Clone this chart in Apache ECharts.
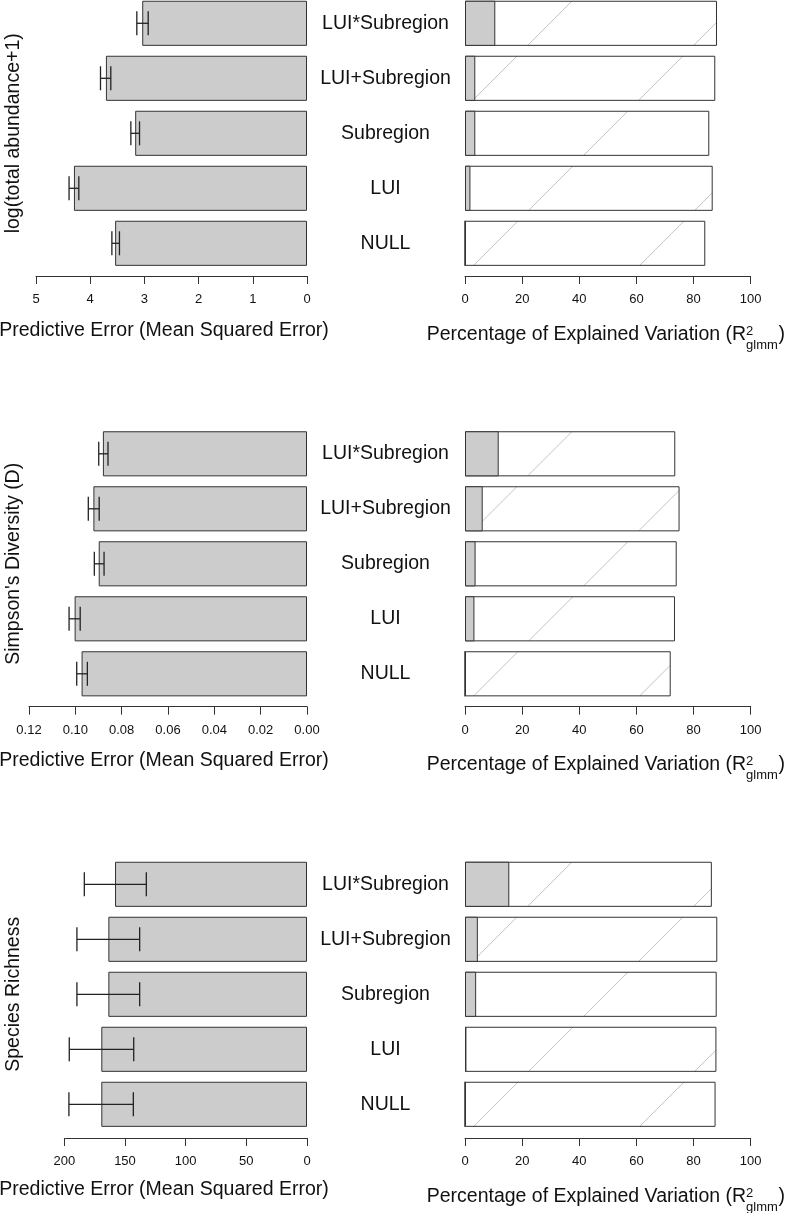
<!DOCTYPE html>
<html>
<head>
<meta charset="utf-8">
<script src="https://cdn.jsdelivr.net/npm/echarts@6/dist/echarts.min.js"></script>
<style>
html,body{margin:0;padding:0;background:#fff;}
#chart{width:787px;height:1213px;}
</style>
</head>
<body>
<div id="chart"></div>
<script>
// ---------------- data (top to bottom order) ----------------
const categories = ['LUI*Subregion', 'LUI+Subregion', 'Subregion', 'LUI', 'NULL'];

// log(total abundance+1)
const abundanceMSE      = [3.04, 3.71, 3.17, 4.30, 3.54];
const abundanceLow      = [2.93, 3.62, 3.09, 4.21, 3.46];
const abundanceHigh     = [3.14, 3.81, 3.25, 4.39, 3.60];
const abundanceR2Total  = [88.2, 87.6, 85.5, 86.7, 84.1];
const abundanceR2Fixed  = [10.6, 3.6, 3.6, 1.9, 0];

// Simpson's Diversity (D)
const simpsonMSE        = [0.0881, 0.0922, 0.0899, 0.1003, 0.0973];
const simpsonLow        = [0.0859, 0.0897, 0.0876, 0.0979, 0.0948];
const simpsonHigh       = [0.0899, 0.0944, 0.0918, 0.1027, 0.0994];
const simpsonR2Total    = [73.6, 75.1, 74.1, 73.5, 72.0];
const simpsonR2Fixed    = [11.8, 6.2, 3.7, 3.3, 0];

// Species Richness
const richnessMSE       = [158.2, 163.7, 163.7, 169.5, 169.5];
const richnessLow       = [132.4, 137.9, 137.9, 142.8, 143.1];
const richnessHigh      = [183.5, 189.6, 189.6, 195.9, 196.2];
const richnessR2Total   = [86.4, 88.3, 88.1, 88.0, 87.7];
const richnessR2Fixed   = [15.5, 4.5, 3.9, 0.5, 0];

// tick labels
const abundanceTicks = [0, 1, 2, 3, 4, 5];
const simpsonTicks   = [0, 0.02, 0.04, 0.06, 0.08, 0.10, 0.12];
const richnessTicks  = [0, 50, 100, 150, 200];
const r2Ticks        = [0, 20, 40, 60, 80, 100];

// texts
const yTitles = ['log(total abundance+1)', "Simpson's Diversity (D)", 'Species Richness'];
const leftXTitle = 'Predictive Error (Mean Squared Error)';
const rightXTitleMain = 'Percentage of Explained Variation (R';
const rightXTitleSup = '2';
const rightXTitleSub = 'glmm';
const rightXTitleEnd = ')';

// ---------------- layout / style ----------------
const FONT = '"Liberation Sans", Arial, Helvetica, sans-serif';
const TXT = '#111';
const LINE = '#333';
const GRAY = '#cccccc';

const panels = [
  {mse: abundanceMSE, lo: abundanceLow, hi: abundanceHigh, tot: abundanceR2Total, fix: abundanceR2Fixed, ticks: abundanceTicks, dec: 0, yTitle: yTitles[0],
   top: -4.2, leftX: 36, off: 5.2, lMid: 330.3, rMid: 334.5},
  {mse: simpsonMSE, lo: simpsonLow, hi: simpsonHigh, tot: simpsonR2Total, fix: simpsonR2Fixed, ticks: simpsonTicks, dec: 2, yTitle: yTitles[1],
   top: 426.3, leftX: 29, off: 5.4, lMid: 760.3, rMid: 765},
  {mse: richnessMSE, lo: richnessLow, hi: richnessHigh, tot: richnessR2Total, fix: richnessR2Fixed, ticks: richnessTicks, dec: 0, yTitle: yTitles[2],
   top: 856.8, leftX: 64.3, off: 6.2, lMid: 1189.7, rMid: 1196.5}
];
const GRID_H = 275;
const LEFT_RIGHT_EDGE = 307;
const RIGHT_LEFT = 465, RIGHT_W = 285.7;
const S = 166;

function hatch(c) {
  const cv = document.createElement('canvas');
  cv.width = S; cv.height = S;
  const g = cv.getContext('2d');
  g.fillStyle = '#ffffff';
  g.fillRect(0, 0, S, S);
  g.strokeStyle = '#c4c4c4';
  g.lineWidth = 1;
  for (const k of [c - S, c, c + S, c + 2 * S]) {
    g.beginPath();
    g.moveTo(k + 5, -5);
    g.lineTo(-5, k + 5);
    g.stroke();
  }
  return cv;
}

function measure(text, size) {
  const g = document.createElement('canvas').getContext('2d');
  g.font = size + 'px ' + FONT;
  return g.measureText(text).width;
}

function errRender(params, api) {
  const y = api.value(0);
  const p1 = api.coord([api.value(1), y]);
  const p2 = api.coord([api.value(2), y]);
  const h = 12;
  const st = {stroke: '#222', lineWidth: 1.3};
  return {
    type: 'group',
    children: [
      {type: 'line', shape: {x1: p1[0], y1: p1[1], x2: p2[0], y2: p2[1]}, style: st},
      {type: 'line', shape: {x1: p1[0], y1: p1[1] - h, x2: p1[0], y2: p1[1] + h}, style: st},
      {type: 'line', shape: {x1: p2[0], y1: p2[1] - h, x2: p2[0], y2: p2[1] + h}, style: st}
    ]
  };
}

const grid = [], xAxis = [], yAxis = [], series = [], graphic = [];

panels.forEach((p, i) => {
  const gl = i * 2, gr = i * 2 + 1;
  grid.push({left: p.leftX, width: LEFT_RIGHT_EDGE - p.leftX, top: p.top, height: GRID_H, outerBoundsMode: 'none'});
  grid.push({left: RIGHT_LEFT, width: RIGHT_W, top: p.top, height: GRID_H, outerBoundsMode: 'none'});

  const axisCommon = {
    type: 'value',
    axisLine: {show: true, lineStyle: {color: LINE, width: 1}},
    axisTick: {show: true, length: 8, lineStyle: {color: LINE, width: 1}},
    splitLine: {show: false},
    offset: p.off
  };
  xAxis.push(Object.assign({}, axisCommon, {
    gridIndex: gl, inverse: true,
    min: p.ticks[0], max: p.ticks[p.ticks.length - 1], interval: p.ticks[1] - p.ticks[0],
    axisLabel: {margin: 17, fontSize: 13, color: TXT, fontFamily: FONT,
      formatter: v => Number(v).toFixed(p.dec)}
  }));
  xAxis.push(Object.assign({}, axisCommon, {
    gridIndex: gr,
    min: r2Ticks[0], max: r2Ticks[r2Ticks.length - 1], interval: r2Ticks[1] - r2Ticks[0],
    axisLabel: {margin: 17, fontSize: 13, color: TXT, fontFamily: FONT}
  }));

  yAxis.push({
    gridIndex: gl, type: 'category', data: categories, inverse: true, position: 'right',
    axisLine: {show: false}, axisTick: {show: false}, splitLine: {show: false},
    axisLabel: {margin: 78.5, align: 'center', fontSize: 19.5, color: TXT, fontFamily: FONT}
  });
  yAxis.push({
    gridIndex: gr, type: 'category', data: categories, inverse: true,
    axisLine: {show: false}, axisTick: {show: false}, axisLabel: {show: false}, splitLine: {show: false}
  });

  series.push({
    type: 'bar', xAxisIndex: gl, yAxisIndex: gl, data: p.mse, barWidth: '82%',
    itemStyle: {color: GRAY, borderColor: LINE, borderWidth: 1}, silent: true
  });
  series.push({
    type: 'custom', xAxisIndex: gl, yAxisIndex: gl,
    data: categories.map((c, j) => [j, p.lo[j], p.hi[j]]),
    encode: {x: [1, 2], y: 0}, renderItem: errRender, silent: true, z: 5
  });

  const yb = p.top + 50;
  const c = (((527.3 + yb) % S) + S) % S;
  series.push({
    type: 'bar', xAxisIndex: gr, yAxisIndex: gr, data: p.tot, barWidth: '82%', barGap: '-100%',
    itemStyle: {color: {image: hatch(c), repeat: 'repeat'}, borderColor: LINE, borderWidth: 1}, silent: true
  });
  series.push({
    type: 'bar', xAxisIndex: gr, yAxisIndex: gr, data: p.fix, barWidth: '82%', barGap: '-100%',
    itemStyle: {color: GRAY, borderColor: LINE, borderWidth: 1}, silent: true
  });

  // y titles
  graphic.push({
    type: 'text', x: 13.5, y: p.top + GRID_H / 2, rotation: Math.PI / 2, silent: true,
    style: {text: p.yTitle, fontSize: 19.5, fontFamily: FONT, fill: TXT, textAlign: 'center', textVerticalAlign: 'middle'}
  });
  // left x title
  graphic.push({
    type: 'text', x: 164, y: p.lMid, silent: true,
    style: {text: leftXTitle, fontSize: 19.5, fontFamily: FONT, fill: TXT, textAlign: 'center', textVerticalAlign: 'middle'}
  });
  // right x title with R^2_glmm
  const w1 = measure(rightXTitleMain, 19.5);
  const w2 = measure(rightXTitleSub, 13);
  const w3 = measure(rightXTitleEnd, 19.5);
  const total = w1 + w2 + 0.5 + w3;
  const x0 = 605.8 - total / 2;
  graphic.push({
    type: 'text', x: x0, y: p.rMid, silent: true,
    style: {text: rightXTitleMain, fontSize: 19.5, fontFamily: FONT, fill: TXT, textAlign: 'left', textVerticalAlign: 'middle'}
  });
  graphic.push({
    type: 'text', x: x0 + w1, y: p.rMid - 3.1, silent: true,
    style: {text: rightXTitleSup, fontSize: 13, fontFamily: FONT, fill: TXT, textAlign: 'left', textVerticalAlign: 'middle'}
  });
  graphic.push({
    type: 'text', x: x0 + w1, y: p.rMid + 10.7, silent: true,
    style: {text: rightXTitleSub, fontSize: 13, fontFamily: FONT, fill: TXT, textAlign: 'left', textVerticalAlign: 'middle'}
  });
  graphic.push({
    type: 'text', x: x0 + w1 + w2 + 0.5, y: p.rMid, silent: true,
    style: {text: rightXTitleEnd, fontSize: 19.5, fontFamily: FONT, fill: TXT, textAlign: 'left', textVerticalAlign: 'middle'}
  });
});

const chart = echarts.init(document.getElementById('chart'), null, {renderer: 'canvas'});
chart.setOption({
  animation: false,
  backgroundColor: '#ffffff',
  textStyle: {fontFamily: FONT},
  grid, xAxis, yAxis, series, graphic
});
</script>
</body>
</html>
